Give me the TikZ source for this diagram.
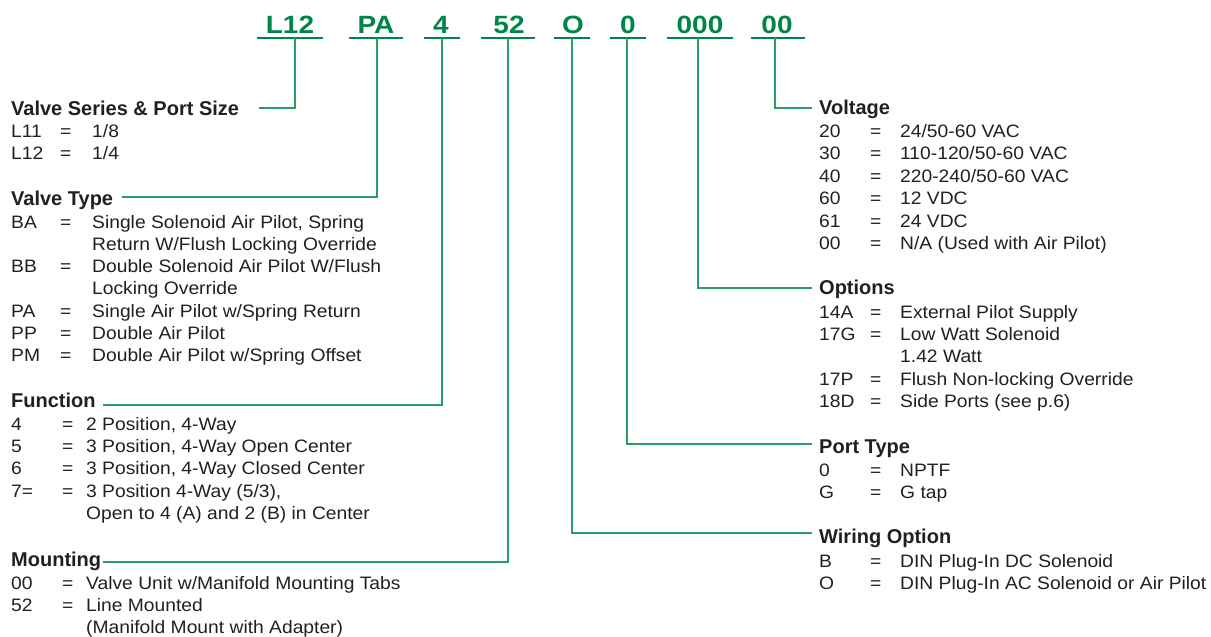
\documentclass[tikz,border=0pt]{standalone}
\usepackage{fontspec}
\setmainfont{Liberation Sans}
\newfontfamily\bodyf[FakeStretch=1.07]{Liberation Sans}
\newfontfamily\codef[FakeStretch=1.12]{Liberation Sans}
\definecolor{codegreen}{RGB}{0,133,72}
\definecolor{linegreen}{RGB}{40,158,100}
\definecolor{ink}{RGB}{35,31,32}
\newcommand\kvA[2]{\makebox[49pt][l]{#1}\makebox[32pt][l]{=}#2}
\newcommand\kvB[2]{\makebox[51pt][l]{#1}\makebox[24pt][l]{=}#2}
\newcommand\kvC[2]{\makebox[51pt][l]{#1}\makebox[30pt][l]{=}#2}
\begin{document}
\begin{tikzpicture}[x=1pt,y=-1pt,
  hdr/.style={anchor=base west,inner sep=0pt,font=\fontsize{20}{22}\selectfont\bfseries,text=ink},
  txt/.style={anchor=base west,inner sep=0pt,font=\bodyf\fontsize{18}{20}\selectfont,text=ink},
  code/.style={anchor=base,inner sep=0pt,font=\codef\fontsize{25}{28}\selectfont\bfseries,text=codegreen},
  uline/.style={draw=codegreen,line width=2.2pt},
  conn/.style={draw=linegreen,line width=1.2pt}]
\useasboundingbox (0,0) rectangle (1211,637);

% ---- code line ----
\node[code] (cL12) at (290,33) {L12};
\node[code] (cPA)  at (376,33) {PA};
\node[code] (c4)   at (441,33) {4};
\node[code] (c52)  at (509,33) {52};
\node[code] (cO)   at (573,33) {O};
\node[code] (c0)   at (628,33) {0};
\node[code] (c000) at (700,33) {000};
\node[code] (c00)  at (777,33) {00};

\coordinate (uL12a) at (257,38); \coordinate (uL12b) at (323,38);
\coordinate (uPAa)  at (349,38); \coordinate (uPAb)  at (403,38);
\coordinate (u4a)   at (424,38); \coordinate (u4b)   at (460,38);
\coordinate (u52a)  at (481,38); \coordinate (u52b)  at (535,38);
\coordinate (uOa)   at (554,38); \coordinate (uOb)   at (590,38);
\coordinate (u0a)   at (610,38); \coordinate (u0b)   at (646,38);
\coordinate (u000a) at (667,38); \coordinate (u000b) at (733,38);
\coordinate (u00a)  at (751,38); \coordinate (u00b)  at (805,38);
\foreach \k in {L12,PA,4,52,O,0,000,00} \draw[uline] (u\k a) -- (u\k b);

% ---- left column ----
\node[hdr] (hVS) at (11,115) {Valve Series \& Port Size};
\node[txt] (rVS1) at (11,137) {\kvA{L11}{1/8}};
\node[txt] (rVS2) at (11,159) {\kvA{L12}{1/4}};

\node[hdr] (hVT) at (11,205) {Valve Type};
\node[txt] (rVT1)  at (11,228) {\kvA{BA}{Single Solenoid Air Pilot, Spring}};
\node[txt] (rVT1b) at (92,250) {Return W/Flush Locking Override};
\node[txt] (rVT2)  at (11,272) {\kvA{BB}{Double Solenoid Air Pilot W/Flush}};
\node[txt] (rVT2b) at (92,294) {Locking Override};
\node[txt] (rVT3)  at (11,317) {\kvA{PA}{Single Air Pilot w/Spring Return}};
\node[txt] (rVT4)  at (11,339) {\kvA{PP}{Double Air Pilot}};
\node[txt] (rVT5)  at (11,361) {\kvA{PM}{Double Air Pilot w/Spring Offset}};

\node[hdr] (hFn) at (11,407) {Function};
\node[txt] (rFn1)  at (11,430) {\kvB{4}{2 Position, 4-Way}};
\node[txt] (rFn2)  at (11,452) {\kvB{5}{3 Position, 4-Way Open Center}};
\node[txt] (rFn3)  at (11,474) {\kvB{6}{3 Position, 4-Way Closed Center}};
\node[txt] (rFn4)  at (11,497) {\kvB{7=}{3 Position 4-Way (5/3),}};
\node[txt] (rFn4b) at (86,519) {Open to 4 (A) and 2 (B) in Center};

\node[hdr] (hMt) at (11,566) {Mounting};
\node[txt] (rMt1)  at (11,589) {\kvB{00}{Valve Unit w/Manifold Mounting Tabs}};
\node[txt] (rMt2)  at (11,611) {\kvB{52}{Line Mounted}};
\node[txt] (rMt2b) at (86,633) {(Manifold Mount with Adapter)};

% ---- right column ----
\node[hdr] (hV) at (819,114) {Voltage};
\node[txt] (rV1) at (819,137) {\kvC{20}{24/50-60 VAC}};
\node[txt] (rV2) at (819,159) {\kvC{30}{110-120/50-60 VAC}};
\node[txt] (rV3) at (819,182) {\kvC{40}{220-240/50-60 VAC}};
\node[txt] (rV4) at (819,204) {\kvC{60}{12 VDC}};
\node[txt] (rV5) at (819,227) {\kvC{61}{24 VDC}};
\node[txt] (rV6) at (819,249) {\kvC{00}{N/A (Used with Air Pilot)}};

\node[hdr] (hO) at (819,294) {Options};
\node[txt] (rO1)  at (819,318) {\kvC{14A}{External Pilot Supply}};
\node[txt] (rO2)  at (819,340) {\kvC{17G}{Low Watt Solenoid}};
\node[txt] (rO2b) at (900,362) {1.42 Watt};
\node[txt] (rO3)  at (819,385) {\kvC{17P}{Flush Non-locking Override}};
\node[txt] (rO4)  at (819,407) {\kvC{18D}{Side Ports (see p.6)}};

\node[hdr] (hP) at (819,453) {Port Type};
\node[txt] (rP1) at (819,476) {\kvC{0}{NPTF}};
\node[txt] (rP2) at (819,498) {\kvC{G}{G tap}};

\node[hdr] (hW) at (819,543) {Wiring Option};
\node[txt] (rW1) at (819,567) {\kvC{B}{DIN Plug-In DC Solenoid}};
\node[txt] (rW2) at (819,589) {\kvC{O}{DIN Plug-In AC Solenoid or Air Pilot}};

% ---- connectors ----
\coordinate (vL12) at (295,38); \coordinate (eL12) at (259,108);
\coordinate (vPA)  at (377,38); \coordinate (ePA)  at (122,197);
\coordinate (v4)   at (442,38); \coordinate (e4)   at (103,405);
\coordinate (v52)  at (508,38); \coordinate (e52)  at (103,562);
\coordinate (vO)   at (572,38); \coordinate (eO)   at (812,533);
\coordinate (v0)   at (627,38); \coordinate (e0)   at (812,444);
\coordinate (v000) at (698,38); \coordinate (e000) at (812,288);
\coordinate (v00)  at (775,38); \coordinate (e00)  at (812,108);
\foreach \k in {L12,PA,4,52,O,0,000,00} \draw[conn] (v\k) |- (e\k);
\end{tikzpicture}
\end{document}
